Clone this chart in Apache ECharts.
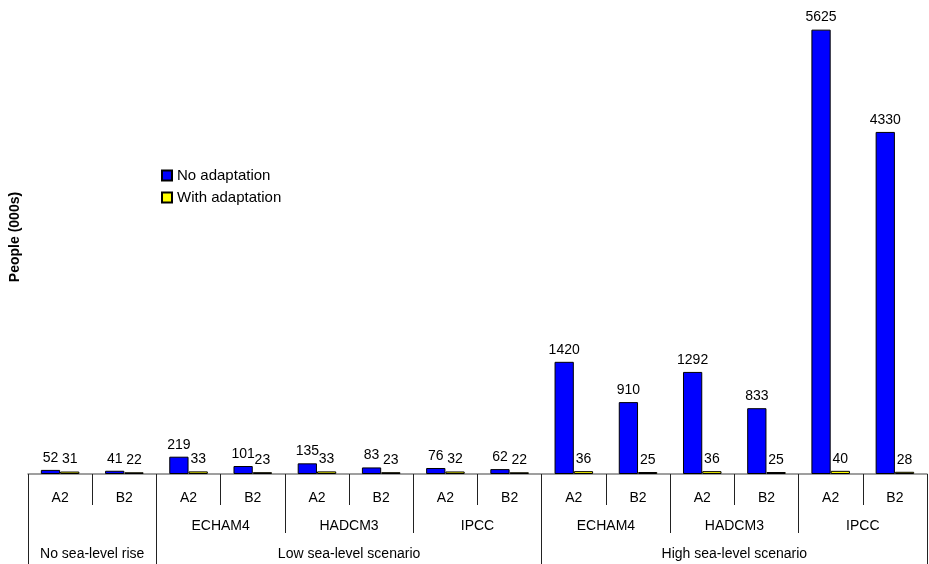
<!DOCTYPE html>
<html>
<head>
<meta charset="utf-8">
<script src="https://cdn.jsdelivr.net/npm/echarts@6/dist/echarts.min.js"></script>
<style>
html,body{margin:0;padding:0;background:#fff;}
#chart{width:929px;height:564px;}
</style>
</head>
<body>
<div id="chart"></div>
<script>
var scenarios = ['A2','B2','A2','B2','A2','B2','A2','B2','A2','B2','A2','B2','A2','B2'];
var models = ['', 'ECHAM4', 'HADCM3', 'IPCC', 'ECHAM4', 'HADCM3', 'IPCC'];
var levels = ['No sea-level rise', '', 'Low sea-level scenario', '', '', 'High sea-level scenario', ''];
var noAdaptation = [52, 41, 219, 101, 135, 83, 76, 62, 1420, 910, 1292, 833, 5625, 4330];
var withAdaptation = [31, 22, 33, 23, 33, 23, 32, 22, 36, 25, 36, 25, 40, 28];

var FONT = 'Liberation Sans, Arial, Helvetica, sans-serif';
var chart = echarts.init(document.getElementById('chart'));
var labelStyle = {show: true, position: 'top', distance: 5, color: '#000', fontSize: 14, fontFamily: FONT};
chart.setOption({
  animation: false,
  textStyle: {fontFamily: FONT},
  grid: {left: 26, right: 2, top: 0, bottom: 90},
  legend: {
    orient: 'vertical', left: 161, top: 168, padding: 0, itemWidth: 10, itemHeight: 10,
    itemGap: 7, itemTextGap: 4, icon: 'rect',
    textStyle: {fontSize: 15, color: '#000', fontFamily: FONT},
    data: ['No adaptation', 'With adaptation']
  },
  xAxis: [
    {
      type: 'category', position: 'bottom', data: scenarios,
      axisLine: {show: true, onZero: false, lineStyle: {color: '#808080', width: 1.5}},
      axisTick: {show: true, length: 31, interval: 0, lineStyle: {color: '#222'}},
      axisLabel: {interval: 0, margin: 17, fontSize: 14, color: '#000', fontFamily: FONT}
    },
    {
      type: 'category', position: 'bottom', data: models,
      axisLine: {show: false, onZero: false},
      axisTick: {show: true, length: 59, interval: 0, lineStyle: {color: '#222'}},
      axisLabel: {interval: 0, margin: 45, fontSize: 14, color: '#000', fontFamily: FONT}
    },
    {
      type: 'category', position: 'bottom', data: levels,
      axisLine: {show: false, onZero: false},
      axisTick: {show: true, length: 92, lineStyle: {color: '#222'},
        interval: function (i) { return i === 0 || i === 1 || i === 4; }},
      axisLabel: {interval: 0, margin: 73, fontSize: 14, color: '#000', fontFamily: FONT}
    }
  ],
  yAxis: {
    type: 'value', min: 0, max: 6000,
    name: 'People (000s)', nameLocation: 'middle', nameGap: 6,
    nameTextStyle: {fontSize: 14, fontWeight: 'bold', color: '#000', fontFamily: FONT},
    axisLine: {show: false}, axisTick: {show: false}, axisLabel: {show: false},
    splitLine: {show: false}
  },
  series: [
    {
      name: 'No adaptation', type: 'bar', data: noAdaptation,
      barGap: '0%', barCategoryGap: '40%',
      itemStyle: {color: '#0000ff', borderColor: '#000', borderWidth: 1},
      label: labelStyle
    },
    {
      name: 'With adaptation', type: 'bar', data: withAdaptation,
      barGap: '0%', barCategoryGap: '40%',
      itemStyle: {color: '#ffff00', borderColor: '#000', borderWidth: 1},
      label: labelStyle
    }
  ]
});
</script>
</body>
</html>
